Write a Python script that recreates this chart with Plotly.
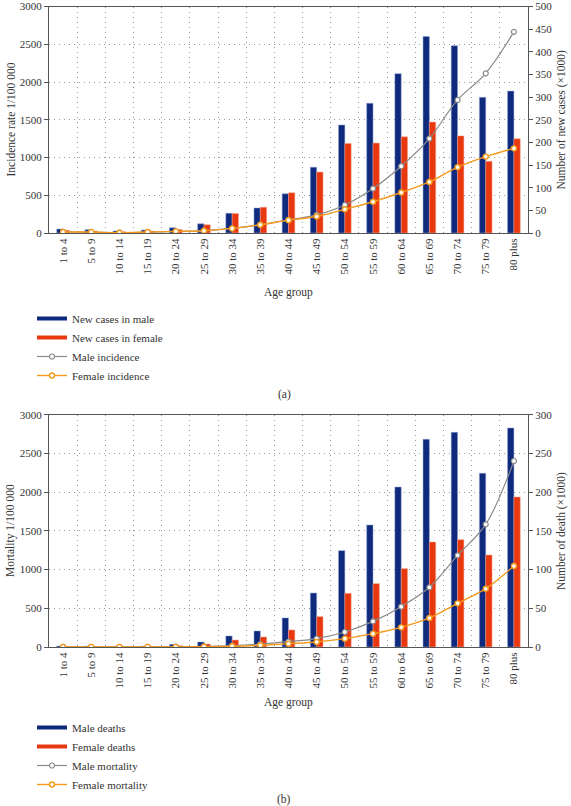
import plotly.graph_objects as go

ages = ["1 to 4", "5 to 9", "10 to 14", "15 to 19", "20 to 24", "25 to 29", "30 to 34",
        "35 to 39", "40 to 44", "45 to 49", "50 to 54", "55 to 59", "60 to 64", "65 to 69",
        "70 to 74", "75 to 79", "80 plus"]

# (a) incidence
new_cases_male = [8.7, 7.3, 4.4, 6.5, 11.6, 20.3, 43.6, 55.2, 86.5, 145.3, 238.4, 286.3, 351.7, 433.9, 413.5, 299.4, 313.2]
new_cases_female = [5.8, 4.4, 2.9, 4.4, 8.0, 18.2, 42.9, 56.7, 88.7, 134.4, 197.7, 198.4, 212.2, 244.9, 214.4, 158.4, 207.8]
male_incidence = [15, 12, 6, 12, 20, 32, 62, 108, 175, 240, 371, 589, 885, 1251, 1762, 2115, 2664]
female_incidence = [13, 13, 4, 13, 22, 30, 61, 109, 170, 218, 314, 414, 536, 676, 872, 1012, 1121]

# (b) mortality
deaths_male = [1.3, 1.3, 0.9, 1.3, 3.4, 6.5, 14.2, 20.7, 37.5, 69.7, 124.4, 157.6, 206.6, 268.2, 277.2, 224.3, 282.8]
deaths_female = [0.4, 0.4, 0.4, 0.5, 1.7, 3.9, 9.0, 12.9, 22.0, 39.2, 69.3, 81.8, 101.2, 135.6, 138.6, 118.8, 193.7]
male_mortality = [2, 1, 1, 2, 4, 8, 18, 38, 70, 108, 194, 331, 521, 771, 1184, 1584, 2402]
female_mortality = [1, 1, 1, 1, 2, 4, 9, 22, 43, 65, 108, 172, 254, 375, 564, 753, 1046]

W, H = 571, 806
FONT = "Liberation Serif"
NAVY = "#0f2a7c"
NAVY_EDGE = "#8ea2d6"
RED = "#e8380f"
RED_EDGE = "#f4a48c"
GRAY = "#8a8a8a"
ORANGE = "#f59a1c"
AXC = "#555555"


def fx(px):
    return px / W


def fy(py):
    return 1 - py / H


fig = go.Figure()


def add_panel(xa, ya_bar, ya_line, bm, bf, lm, lf, names, legend):
    fig.add_trace(go.Scatter(x=[None], y=[None], mode="lines", name=names[0],
                             line=dict(color=NAVY, width=4), xaxis=xa, yaxis=ya_bar, legend=legend))
    fig.add_trace(go.Scatter(x=[None], y=[None], mode="lines", name=names[1],
                             line=dict(color=RED, width=4), xaxis=xa, yaxis=ya_bar, legend=legend))
    fig.add_trace(go.Bar(x=ages, y=bm, marker=dict(color=NAVY, line=dict(width=0.5, color=NAVY_EDGE)),
                         name=names[0], showlegend=False, xaxis=xa, yaxis=ya_bar))
    fig.add_trace(go.Bar(x=ages, y=bf, marker=dict(color=RED, line=dict(width=0.5, color=RED_EDGE)),
                         name=names[1], showlegend=False, xaxis=xa, yaxis=ya_bar))
    fig.add_trace(go.Scatter(x=ages, y=lm, mode="lines+markers", name=names[2],
                             line=dict(color=GRAY, width=1.2, shape="spline"),
                             marker=dict(symbol="circle", size=5, color="white",
                                         line=dict(color=GRAY, width=1.2)),
                             xaxis=xa, yaxis=ya_line, legend=legend))
    fig.add_trace(go.Scatter(x=ages, y=lf, mode="lines+markers", name=names[3],
                             line=dict(color=ORANGE, width=1.4, shape="spline"),
                             marker=dict(symbol="circle", size=5, color="white",
                                         line=dict(color=ORANGE, width=1.4)),
                             xaxis=xa, yaxis=ya_line, legend=legend))


add_panel("x", "y", "y2", new_cases_male, new_cases_female, male_incidence, female_incidence,
          ["New cases in male", "New cases in female", "Male incidence", "Female incidence"], "legend")
add_panel("x2", "y3", "y4", deaths_male, deaths_female, male_mortality, female_mortality,
          ["Male deaths", "Female deaths", "Male mortality", "Female mortality"], "legend2")

tickfont = dict(family=FONT, size=11, color="#333333")
xdom = [fx(49), fx(528)]
top_dom = [fy(233), fy(6.5)]
bot_dom = [fy(647), fy(414.7)]
GRID = dict(showgrid=True, gridcolor="#9a9a9a", gridwidth=1, griddash="1px,4px")


def xaxis_cfg(anchor):
    return dict(domain=xdom, anchor=anchor, type="category", tickson="boundaries",
                showline=True, linecolor=AXC, linewidth=1.2, mirror=True,
                ticks="", tickangle=-90, tickfont=tickfont, automargin=False,
                ticklabeloverflow="allow", range=[-0.5, 16.5], **GRID)


def ybar_cfg(anchor, dom, rng, dt):
    return dict(domain=dom, anchor=anchor, side="right", range=rng, dtick=dt,
                showgrid=False, showline=True, linecolor=AXC, linewidth=1.2,
                ticks="outside", ticklen=4, tickcolor=AXC, tickfont=tickfont, automargin=False,
                ticklabeloverflow="allow", zeroline=False)


def yline_cfg(anchor, over, dom, rng, dt):
    return dict(domain=dom, anchor=anchor, side="left", overlaying=over, range=rng, dtick=dt,
                showline=True, linecolor=AXC, linewidth=1.2,
                ticks="outside", ticklen=4, tickcolor=AXC, tickfont=tickfont, automargin=False,
                ticklabeloverflow="allow", zeroline=False, **GRID)


legfont = dict(family=FONT, size=11, color="#333333")

fig.update_layout(
    width=W, height=H, autosize=False,
    margin=dict(l=0, r=0, t=0, b=0),
    paper_bgcolor="white", plot_bgcolor="white",
    barmode="group", bargap=0.55, bargroupgap=0,
    font=dict(family=FONT, size=11, color="#333333"),
    xaxis=xaxis_cfg("y"),
    yaxis=ybar_cfg("x", top_dom, [0, 500], 50),
    yaxis2=yline_cfg("x", "y", top_dom, [0, 3000], 500),
    xaxis2=xaxis_cfg("y3"),
    yaxis3=ybar_cfg("x2", bot_dom, [0, 300], 50),
    yaxis4=yline_cfg("x2", "y3", bot_dom, [0, 3000], 500),
    legend=dict(x=fx(32), y=fy(304), xanchor="left", yanchor="top", font=legfont,
                bgcolor="rgba(0,0,0,0)", traceorder="normal", itemwidth=30),
    legend2=dict(x=fx(32), y=fy(713), xanchor="left", yanchor="top", font=legfont,
                 bgcolor="rgba(0,0,0,0)", traceorder="normal", itemwidth=30),
    showlegend=True,
)

ann_font = dict(family=FONT, size=11.5, color="#333333")
annotations = [
    dict(text="Incidence rate 1/100 000", x=fx(10), y=fy(119.5), textangle=-90),
    dict(text="Number of new cases (×1000)", x=fx(561), y=fy(119.5), textangle=-90),
    dict(text="Age group", x=fx(288.5), y=fy(292), textangle=0),
    dict(text="(a)", x=fx(284), y=fy(394), textangle=0),
    dict(text="Mortality 1/100 000", x=fx(10), y=fy(531), textangle=-90),
    dict(text="Number of death (×1000)", x=fx(561), y=fy(531), textangle=-90),
    dict(text="Age group", x=fx(288.5), y=fy(702), textangle=0),
    dict(text="(b)", x=fx(284), y=fy(799), textangle=0),
]
for a in annotations:
    fig.add_annotation(xref="paper", yref="paper", showarrow=False, xanchor="center",
                       yanchor="middle", font=ann_font, **a)

fig.write_html("out.html", config={"displayModeBar": False},
               post_script="document.body.style.margin='0px';document.body.style.overflow='hidden';")
